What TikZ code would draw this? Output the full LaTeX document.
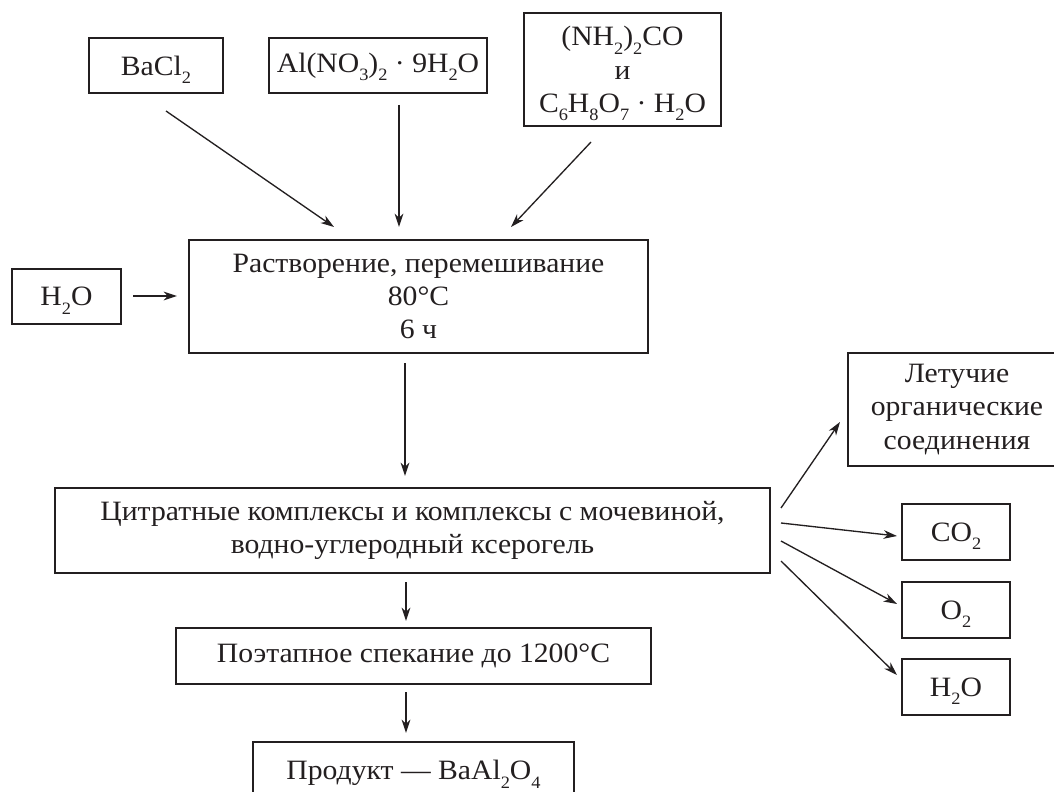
\documentclass[tikz,border=0pt]{standalone}
\usepackage{fontspec}
\setmainfont{Liberation Serif}[FakeStretch=1.06]
\usetikzlibrary{arrows.meta}
\definecolor{ink}{HTML}{231F20}
\newcommand\chsub[1]{\raisebox{-0.3em}[0pt][0pt]{\fontsize{13}{13}\selectfont #1}}
\begin{document}
\begin{tikzpicture}[x=0.75pt,y=-0.75pt,
  font=\fontsize{21}{25}\selectfont,
  box/.style={draw=ink,line width=1pt,inner sep=0pt,align=center,text=ink},
  arr/.style={draw=ink,line width=1pt,-{Stealth[length=10pt,width=6.5pt,inset=3pt]}}]
\useasboundingbox (0,0) rectangle (1054,792);
\clip (0,0) rectangle (1054,792);
\fill[white] (0,0) rectangle (1054,792);
% top inputs
\node[box,minimum width=100.5pt,minimum height=41.25pt] (bacl) at (156,65.5) {BaCl\chsub{2}};
\node[box,minimum width=163.5pt,minimum height=41.25pt] (alno) at (378,65.5) {Al(NO\chsub{3})\chsub{2} · 9H\chsub{2}O};
\node[box,minimum width=147.75pt,minimum height=84.75pt] (urea) at (622.5,69.5) {(NH\chsub{2})\chsub{2}CO\\и\\C\chsub{6}H\chsub{8}O\chsub{7} · H\chsub{2}O};
% main chain
\node[box,minimum width=344.25pt,minimum height=84.75pt] (dis) at (418.5,296.5) {Растворение, перемешивание\\80°C\\6 ч};
\node[box,minimum width=81.75pt,minimum height=41.25pt] (water) at (66.5,296.5) {H\chsub{2}O};
\node[box,minimum width=536.25pt,minimum height=63.75pt] (gel) at (412.5,530.5) {Цитратные комплексы и комплексы с мочевиной,\\водно-углеродный ксерогель};
\node[box,minimum width=356.25pt,minimum height=42pt] (sint) at (413.5,656) {Поэтапное спекание до 1200°C};
\node[box,minimum width=240.75pt,minimum height=46.5pt] (prod) at (413.5,773) {Продукт — BaAl\chsub{2}O\chsub{4}};
% right outputs
\node[box,minimum width=163.5pt,minimum height=84.75pt] (vol) at (957,409.5) {Летучие\\органические\\соединения};
\node[box,minimum width=81pt,minimum height=42pt] (co2) at (956,532) {CO\chsub{2}};
\node[box,minimum width=81pt,minimum height=42pt] (o2) at (956,610) {O\chsub{2}};
\node[box,minimum width=81pt,minimum height=42pt] (h2o) at (956,687) {H\chsub{2}O};
% connector end points
\coordinate (a1s) at (166,111); \coordinate (a1e) at (334,227);
\coordinate (a2s) at (399,105); \coordinate (a2e) at (399,227);
\coordinate (a3s) at (591,142); \coordinate (a3e) at (511,227);
\coordinate (a4s) at (133,296); \coordinate (a4e) at (177,296);
\coordinate (a5s) at (405,363); \coordinate (a5e) at (405,476);
\coordinate (a6s) at (406,582); \coordinate (a6e) at (406,621);
\coordinate (a7s) at (406,692); \coordinate (a7e) at (406,733);
\coordinate (r1s) at (781,508); \coordinate (r1e) at (840,422);
\coordinate (r2s) at (781,523); \coordinate (r2e) at (897,536);
\coordinate (r3s) at (781,541); \coordinate (r3e) at (897,604);
\coordinate (r4s) at (781,561); \coordinate (r4e) at (897,675);
\draw[arr] (a1s) -- (a1e);
\draw[arr] (a2s) -- (a2e);
\draw[arr] (a3s) -- (a3e);
\draw[arr] (a4s) -- (a4e);
\draw[arr] (a5s) -- (a5e);
\draw[arr] (a6s) -- (a6e);
\draw[arr] (a7s) -- (a7e);
\draw[arr] (r1s) -- (r1e);
\draw[arr] (r2s) -- (r2e);
\draw[arr] (r3s) -- (r3e);
\draw[arr] (r4s) -- (r4e);
\end{tikzpicture}
\end{document}
